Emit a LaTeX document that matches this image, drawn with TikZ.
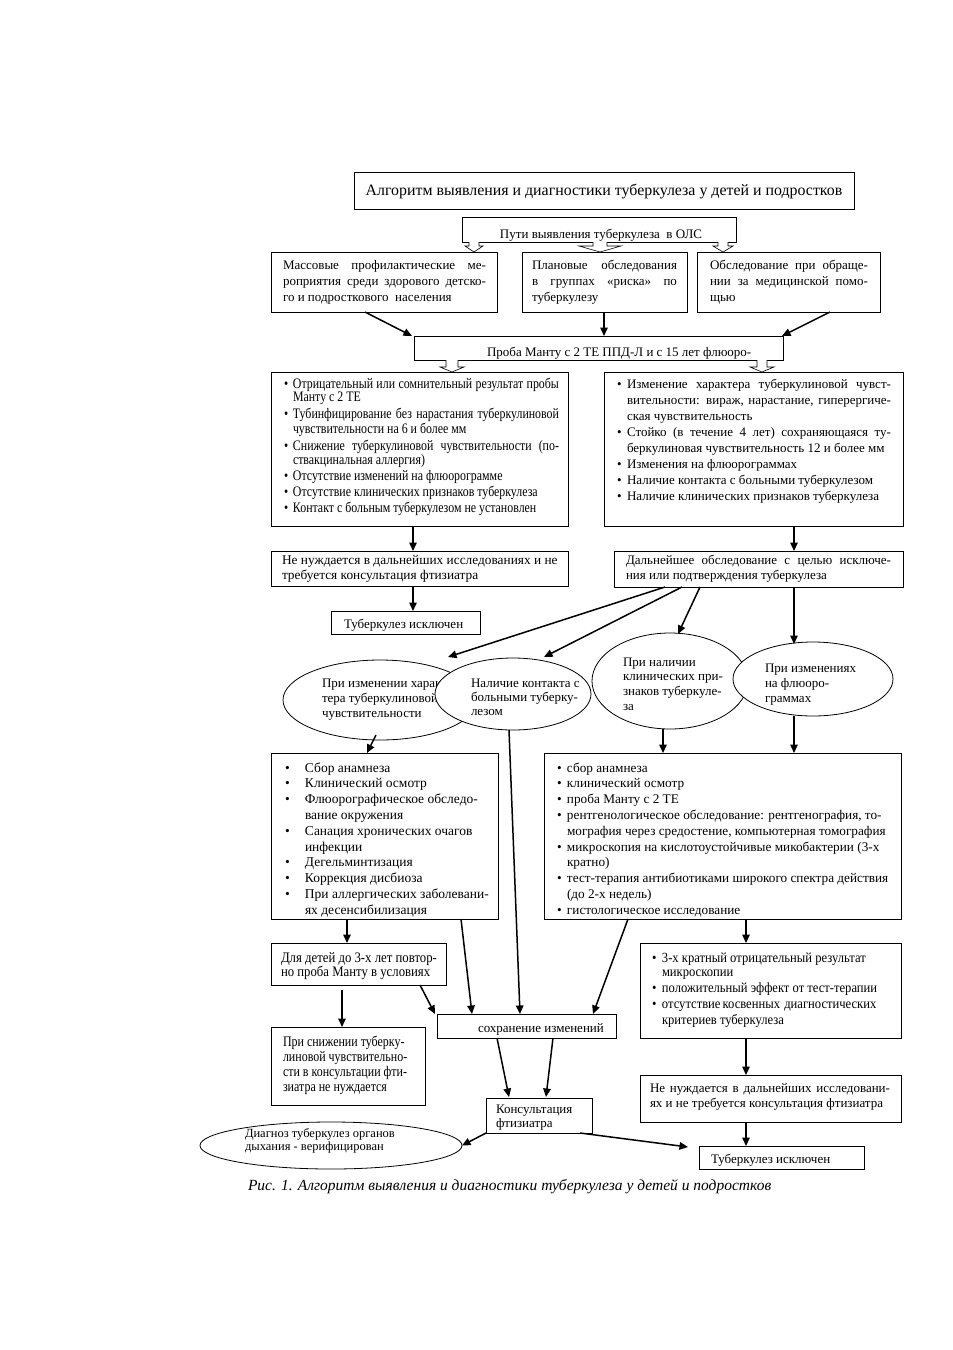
\documentclass[tikz,border=0pt]{standalone}
\usepackage{fontspec}
\setmainfont{Liberation Serif}
\newfontfamily\cnd{Liberation Serif}[FakeStretch=0.82]
\newfontfamily\cndb{Liberation Serif}[FakeStretch=0.88]
\newfontfamily\cndc{Liberation Serif}[FakeStretch=0.9]
\usetikzlibrary{arrows.meta,shapes.geometric,calc}
\newcommand\J[2]{\makebox[#1pt][s]{#2}}
\newcommand\bu[1]{\makebox[#1pt][l]{\textbullet}}
\newcommand\ind[1]{\hspace*{#1pt}}
\newcommand\rect[5]{\node[box, minimum width={(#4)-(#2)}, minimum height={(#5)-(#3)}] (#1) at ({((#2)+(#4))/2},{((#3)+(#5))/2}) {};}
\newcommand\barrow[6]{\draw[blk] (#1.south -| {#3-#4},0) -- ($(#2.north -| {#3-#4},0)+(0,-#6)$) -- ($(#2.north -| {#3-#5},0)+(0,-#6)$) -- (#2.north -| #3,0) -- ($(#2.north -| {#3+#5},0)+(0,-#6)$) -- ($(#2.north -| {#3+#4},0)+(0,-#6)$) -- (#1.south -| {#3+#4},0);}
\tikzset{
  box/.style={draw, line width=0.8pt, fill=white, inner sep=0pt, outer sep=0pt},
  ell/.style={draw, ellipse, line width=0.8pt, fill=white, inner sep=0pt, outer sep=0pt},
  txt/.style={anchor=base west, inner sep=0pt, outer sep=0pt, align=left},
  arr/.style={-{Triangle[length=8.5pt,width=7.5pt]}, line width=1.5pt},
  blk/.style={draw, line width=0.6pt, fill=white, line join=miter},
}
\newcommand\tab[1]{\begin{tabular}[t]{@{}l@{}}#1\end{tabular}}
\begin{document}
\begin{tikzpicture}[x=1pt,y=-1pt]
\useasboundingbox[fill=white] (0,0) rectangle (953,1350);

% title
\rect{title}{354}{172}{854}{209}
\node[anchor=base, inner sep=0pt] (titletxt) at (604,195) {\fontsize{15.9}{18}\selectfont Алгоритм выявления и диагностики туберкулеза у детей и подростков};

% ways
\rect{puti}{462}{217}{736}{242}
\begin{scope}
\clip (puti.north west) rectangle (puti.south east);
\node[anchor=base, inner sep=0pt] (putitxt) at (601,238) {\fontsize{13}{15}\selectfont Пути выявления туберкулеза \ в ОЛС};
\end{scope}

\rect{ma}{271}{252}{497}{312}
\rect{pl}{522}{252}{687}{312}
\rect{ob}{697}{252}{880}{312}
\node[txt] (matxt) at (283,269) {\fontsize{13}{16}\selectfont\tab{\J{203}{Массовые профилактические ме-}\\ \J{203}{роприятия среди здорового детско-}\\ го и подросткового \ населения}};
\node[txt] (pltxt) at (532,269) {\fontsize{13}{16}\selectfont\tab{\J{145}{Плановые обследования}\\ \J{145}{в группах «риска» по}\\ туберкулезу}};
\node[txt] (obtxt) at (710,269) {\fontsize{13}{16}\selectfont\tab{\J{158}{Обследование при обраще-}\\ \J{158}{нии за медицинской помо-}\\ щью}};

\barrow{puti}{ma}{474}{5}{9}{6}
\barrow{puti}{pl}{600}{7}{21}{6}
\barrow{puti}{ob}{723}{5}{10}{6}

% proba
\rect{proba}{414}{336}{783}{360}
\begin{scope}
\clip (proba.north west) rectangle (proba.south east);
\node[txt] (probatxt) at (487,356) {\fontsize{13}{15}\selectfont Проба Манту с 2 ТЕ ППД-Л и с 15 лет флюоро-};
\end{scope}
\draw[arr] ([xshift=94pt]ma.south west) -- ([xshift=-2pt]proba.north west);
\draw[arr] ([xshift=82pt]pl.south west) -- ([xshift=190pt]proba.north west);
\draw[arr] ([xshift=133pt]ob.south west) -- ([xshift=-1pt]proba.north east);

% lists 1
\rect{L1}{271}{372}{568}{526}
\rect{R1}{604}{372}{903}{526}
\barrow{proba}{L1}{452}{6}{12}{5}
\barrow{proba}{R1}{762}{5}{12}{5}
\node[txt] (L1txt) at (284,388) {\cnd\fontsize{14.5}{13}\selectfont\tab{%
\bu{9}\J{266}{Отрицательный или сомнительный результат пробы}\\
\ind{9}Манту с 2 ТЕ\\[3pt]
\bu{9}\J{266}{Тубинфицирование без нарастания туберкулиновой}\\
\ind{9}чувствительности на 6 и более мм\\[3pt]
\bu{9}\J{266}{Снижение туберкулиновой чувствительности (по-}\\
\ind{9}ствакцинальная аллергия)\\[2pt]
\bu{9}Отсутствие изменений на флюорограмме\\[2pt]
\bu{9}Отсутствие клинических признаков туберкулеза\\[2pt]
\bu{9}Контакт с больным туберкулезом не установлен}};
\node[txt] (R1txt) at (617,388) {\fontsize{13}{16}\selectfont\tab{%
\bu{10}\J{264}{Изменение характера туберкулиновой чувст-}\\
\ind{10}\J{264}{вительности: вираж, нарастание, гиперергиче-}\\
\ind{10}ская чувствительность\\
\bu{10}\J{264}{Стойко (в течение 4 лет) сохраняющаяся ту-}\\
\ind{10}беркулиновая чувствительность 12 и более мм\\
\bu{10}Изменения на флюорограммах\\
\bu{10}Наличие контакта с больными туберкулезом\\
\bu{10}Наличие клинических признаков туберкулеза}};

% second row
\rect{nn1}{271}{551}{568}{586}
\rect{dal}{614}{551}{903}{587}
\node[txt] (nn1txt) at (282,564) {\fontsize{13.35}{15}\selectfont\tab{Не нуждается в дальнейших исследованиях и не\\ требуется консультация фтизиатра}};
\node[txt] (daltxt) at (626,564) {\fontsize{13}{15}\selectfont\tab{\J{265}{Дальнейшее обследование с целью исключе-}\\ ния или подтверждения туберкулеза}};
\draw[arr] ([xshift=142pt]L1.south west) -- ([xshift=142pt]nn1.north west);
\draw[arr] ([xshift=190pt]R1.south west) -- ([xshift=180pt]dal.north west);

\rect{tb1}{331}{611}{480}{634}
\begin{scope}
\clip (tb1.north west) rectangle (tb1.south east);
\node[txt] (tb1txt) at (344,628) {\fontsize{13}{15}\selectfont Туберкулез исключен};
\end{scope}
\draw[arr] ([xshift=142pt]nn1.south west) -- ([xshift=82pt]tb1.north west);

% ellipses
\node[ell, minimum width=194pt, minimum height=80pt] (E1) at (380,700) {};
\node[txt] (E1txt) at (322,687) {\fontsize{13}{15}\selectfont\tab{При изменении харак-\\ тера туберкулиновой\\ чувствительности}};
\node[ell, minimum width=156pt, minimum height=72pt] (E2) at (513,694) {};
\node[txt] (E2txt) at (471,687) {\fontsize{13}{14.2}\selectfont\tab{Наличие контакта с\\ больными туберку-\\ лезом}};
\node[ell, minimum width=156pt, minimum height=96pt] (E3) at (670,681) {};
\node[txt] (E3txt) at (623,666) {\fontsize{13}{14.8}\selectfont\tab{При наличии\\ клинических при-\\ знаков туберкуле-\\ за}};
\node[ell, minimum width=160pt, minimum height=74pt] (E4) at (813,679) {};
\node[txt] (E4txt) at (765,672) {\fontsize{13}{15}\selectfont\tab{При изменениях\\ на флюоро-\\ граммах}};

\draw[arr] ([xshift=51pt]dal.south west) -- ([xshift=68pt,yshift=43pt]E1.center);
\draw[arr] ([xshift=68pt]dal.south west) -- ([xshift=31pt,yshift=37pt]E2.center);
\draw[arr] ([xshift=86pt]dal.south west) -- ([xshift=8pt,yshift=-1pt]E3.north);
\draw[arr] ([xshift=180pt]dal.south west) -- ([xshift=-19pt,yshift=-2pt]E4.north);

% lists 2
\rect{L2}{271}{753}{498}{919}
\rect{R2}{544}{753}{901}{919}
\node[txt] (L2txt) at (285,772) {\fontsize{13.5}{15.8}\selectfont\tab{%
\bu{20}Сбор анамнеза\\
\bu{20}Клинический осмотр\\
\bu{20}Флюорографическое обследо-\\
\ind{20}вание окружения\\
\bu{20}Санация хронических очагов\\
\ind{20}инфекции\\
\bu{20}Дегельминтизация\\
\bu{20}Коррекция дисбиоза\\
\bu{20}При аллергических заболевани-\\
\ind{20}ях десенсибилизация}};
\node[txt] (R2txt) at (557,772) {\fontsize{13.25}{15.8}\selectfont\tab{%
\bu{10}сбор анамнеза\\
\bu{10}клинический осмотр\\
\bu{10}проба Манту с 2 ТЕ\\
\bu{10}рентгенологическое обследование: рентгенография, то-\\
\ind{10}мография через средостение, компьютерная томография\\
\bu{10}микроскопия на кислотоустойчивые микобактерии (3-х\\
\ind{10}кратно)\\
\bu{10}тест-терапия антибиотиками широкого спектра действия\\
\ind{10}(до 2-х недель)\\
\bu{10}гистологическое исследование}};
\draw[arr] ([xshift=-4pt,yshift=-35pt]E1.center) -- ([xshift=96pt]L2.north west);
\draw[arr] ([xshift=-7pt]E3.south) -- ([xshift=119pt]R2.north west);
\draw[arr] ([xshift=-19pt]E4.south) -- ([xshift=250pt]R2.north west);

% lower part
\rect{det}{271}{943}{446}{985}
\rect{sn}{271}{1027}{425}{1105}
\rect{sohr}{437}{1014}{616}{1038}
\rect{R3}{640}{943}{901}{1038}
\rect{nn2}{640}{1075}{901}{1122}
\rect{kons}{486}{1098}{592}{1133}
\rect{tb2}{699}{1146}{864}{1169}
\node[ell, minimum width=262pt, minimum height=47pt] (diag) at (331,1145.5) {};

\node[txt] (dettxt) at (281,962) {\cndb\fontsize{14.5}{14}\selectfont\tab{Для детей до 3-х лет повтор-\\ но проба Манту в условиях}};
\node[txt] (sntxt) at (283,1046) {\cnd\fontsize{14.6}{15}\selectfont\tab{При снижении туберку-\\ линовой чувствительно-\\ сти в консультации фти-\\ зиатра не нуждается}};
\node[txt] (sohrtxt) at (478,1032) {\fontsize{13}{15}\selectfont сохранение изменений};
\node[txt] (R3txt) at (652,962) {\cndc\fontsize{14}{15}\selectfont\tab{%
\bu{10}3-х кратный отрицательный результат\\[-1pt]
\ind{10}микроскопии\\[1pt]
\bu{10}положительный эффект от тест-терапии\\[1pt]
\bu{10}\J{214}{отсутствие косвенных \ диагностических}\\[1pt]
\ind{10}критериев туберкулеза}};
\node[txt] (nn2txt) at (650,1092) {\fontsize{13}{15}\selectfont\tab{\J{240}{Не нуждается в дальнейших исследовани-}\\ ях и не требуется консультация фтизиатра}};
\node[txt] (konstxt) at (496,1113) {\fontsize{13}{14}\selectfont\tab{Консультация\\ фтизиатра}};
\node[txt] (diagtxt) at (245,1137) {\fontsize{12.5}{13}\selectfont\tab{Диагноз туберкулез органов\\ дыхания - верифицирован}};
\node[txt] (tb2txt) at (711,1163) {\fontsize{13}{15}\selectfont Туберкулез исключен};

\draw[arr] ([xshift=76pt]L2.south west) -- ([xshift=76pt]det.north west);
\draw[arr] ([xshift=190pt]L2.south west) -- ([xshift=35pt]sohr.north west);
\draw[arr] ([xshift=-4pt]E2.south) -- ([xshift=83pt]sohr.north west);
\draw[arr] ([xshift=84pt]R2.south west) -- ([xshift=156pt]sohr.north west);
\draw[arr] ([xshift=202pt]R2.south west) -- ([xshift=106pt]R3.north west);
\draw[arr] ([xshift=149pt]det.south west) -- ([xshift=-2pt]sohr.north west);
\draw[arr] ([xshift=71pt,yshift=-5pt]det.south west) -- ([xshift=71pt]sn.north west);
\draw[arr] ([xshift=60pt]sohr.south west) -- ([xshift=23pt,yshift=1pt]kons.north west);
\draw[arr] ([xshift=116pt]sohr.south west) -- ([xshift=60pt,yshift=1pt]kons.north west);
\draw[arr] ([xshift=106pt]R3.south west) -- ([xshift=106pt]nn2.north west);
\draw[arr] ([xshift=106pt]nn2.south west) -- ([xshift=47pt]tb2.north west);
\draw[arr] (kons.south west) -- (diag.east);
\draw[arr] ([xshift=94pt]kons.south west) -- ([xshift=-11pt,yshift=-1pt]tb2.north west);

% caption
\node[txt] (caption) at (248,1190) {\fontsize{15.5}{18}\selectfont\itshape Рис. 1. Алгоритм выявления и диагностики туберкулеза у детей и подростков};
\end{tikzpicture}
\end{document}
